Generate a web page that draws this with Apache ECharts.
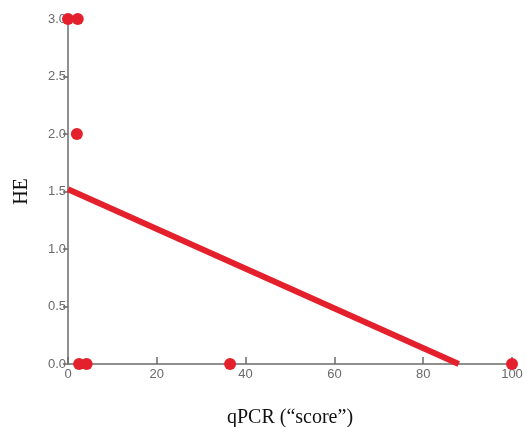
<!DOCTYPE html>
<html>
<head>
<meta charset="utf-8">
<script src="https://cdn.jsdelivr.net/npm/echarts@6/dist/echarts.min.js"></script>
<style>
  html, body { margin: 0; padding: 0; background: #fff; }
  #chart { width: 527px; height: 427px; }
</style>
</head>
<body>
<div id="chart"></div>
<script>
const qpcr = [0, 2.2, 2, 2.5, 4.2, 36.5, 100];
const he = [3, 3, 2, 0, 0, 0, 0];
const fitX = [0, 88];
const fitY = [1.52, 0];

const rojo = "#e3202c";
const gris = "#6b6b6b";

const chart = echarts.init(document.getElementById("chart"));
chart.setOption({
  animation: false,
  grid: { left: 68, right: 15, top: 19, bottom: 63, containLabel: false, outerBoundsMode: "none" },
  xAxis: {
    type: "value",
    min: 0,
    max: 100,
    interval: 20,
    name: "qPCR (\u201cscore\u201d)",
    nameLocation: "middle",
    nameGap: 44,
    nameTextStyle: { fontFamily: "Liberation Serif", fontSize: 20, color: "#111" },
    axisLine: { lineStyle: { color: gris, width: 1.5 } },
    axisTick: { inside: true, length: 7, lineStyle: { color: gris, width: 1.5 } },
    axisLabel: { color: "#6a6a6a", fontFamily: "Liberation Sans", fontSize: 13, margin: 4 },
    splitLine: { show: false }
  },
  yAxis: {
    type: "value",
    min: 0,
    max: 3,
    interval: 0.5,
    name: "HE",
    nameLocation: "middle",
    nameGap: 36,
    nameRotate: 90,
    nameTextStyle: { fontFamily: "Liberation Serif", fontSize: 20, color: "#111" },
    axisLine: { show: true, lineStyle: { color: gris, width: 1.5 } },
    axisTick: { show: true, length: 5, lineStyle: { color: gris, width: 1.5 } },
    axisLabel: {
      color: "#6a6a6a",
      fontFamily: "Liberation Sans",
      fontSize: 13,
      margin: 2,
      formatter: (v) => v.toFixed(1)
    },
    splitLine: { show: false }
  },
  series: [
    {
      type: "line",
      data: fitX.map((x, i) => [x, fitY[i]]),
      symbol: "none",
      lineStyle: { color: rojo, width: 6 },
      z: 2
    },
    {
      type: "scatter",
      data: qpcr.map((x, i) => [x, he[i]]),
      symbolSize: 12,
      itemStyle: { color: rojo, opacity: 1 },
      z: 3
    }
  ]
});
</script>
</body>
</html>
